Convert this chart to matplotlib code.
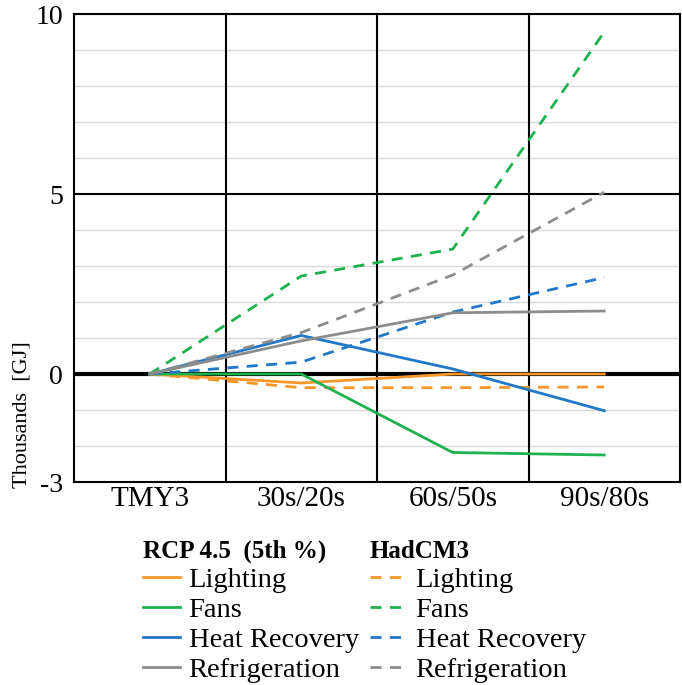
import matplotlib
matplotlib.use('Agg')
import matplotlib.pyplot as plt

plt.rcParams['font.family'] = ['Liberation Serif', 'DejaVu Serif']

# Datos (miles de GJ)
periodos = ['TMY3', '30s/20s', '60s/50s', '90s/80s']
usos = ['Lighting', 'Fans', 'Heat Recovery', 'Refrigeration']
colores = ['#f7962a', '#1fb14f', '#1f78c8', '#8c8c8c']

rcp_lighting = [0, -0.25, 0.0, 0.0]
rcp_fans = [0, 0.0, -2.18, -2.25]
rcp_heat = [0, 1.07, 0.14, -1.02]
rcp_refrig = [0, 0.92, 1.7, 1.75]

had_lighting = [0, -0.38, -0.38, -0.36]
had_fans = [0, 2.72, 3.47, 9.5]
had_heat = [0, 0.33, 1.72, 2.68]
had_refrig = [0, 1.15, 2.75, 5.05]

rcp = [rcp_lighting, rcp_fans, rcp_heat, rcp_refrig]
had = [had_lighting, had_fans, had_heat, had_refrig]

fig = plt.figure(figsize=(6.82, 6.85), dpi=100)
ax = fig.add_axes([74 / 682, 203 / 685, 606 / 682, 468 / 685])

x = list(range(len(periodos)))

# Rejilla
for v in range(-3, 11):
    if v in (0, 5):
        continue
    ax.axhline(v, color='#d9d9d9', lw=1.0, zorder=0)
ax.axhline(5, color='black', lw=1.5, zorder=1)
for xb in [0.5, 1.5, 2.5]:
    ax.axvline(xb, color='black', lw=1.5, zorder=1)
ax.axhline(0, color='black', lw=3, zorder=1)

lineas_rcp = []
lineas_had = []
for uso, c, yr, yh in zip(usos, colores, rcp, had):
    l1, = ax.plot(x, yr, color=c, lw=2, label=uso, zorder=3)
    l2, = ax.plot(x, yh, color=c, lw=2, ls=(0, (4, 3)), label=uso, zorder=3)
    lineas_rcp.append(l1)
    lineas_had.append(l2)

ax.set_xlim(-0.5, 3.5)
ax.set_ylim(-3, 10)
ax.set_yticks([-3, 0, 5, 10])
ax.set_yticklabels(['-3', '0', '5', '10'], fontsize=20)
ax.set_xticks(x)
ax.set_xticklabels(periodos, fontsize=21)
ax.tick_params(axis='y', length=0, pad=8)
ax.tick_params(axis='x', length=0, pad=3)
for s in ax.spines.values():
    s.set_linewidth(1.5)
    s.set_color('black')

fig.text(22 / 682, 1 - 415 / 685, 'Thousands  [GJ]', rotation=90,
         ha='center', va='center', fontsize=16)


def leyenda(handles, titulo, x0):
    leg = fig.legend(handles=handles, loc='upper left',
                     bbox_to_anchor=(x0 / 682, 1 - 540 / 685), frameon=False,
                     title=titulo, fontsize=20.5, handlelength=1.3,
                     handletextpad=0.3, labelspacing=0.14, borderpad=0.0,
                     borderaxespad=0.0)
    leg.get_title().set_fontweight('bold')
    leg.get_title().set_fontsize(18)
    leg._legend_box.align = 'left'
    return leg


leyenda(lineas_rcp, 'RCP 4.5  (5th %)', 143)
leyenda(lineas_had, 'HadCM3', 370)

fig.savefig('out.png', dpi=100)
